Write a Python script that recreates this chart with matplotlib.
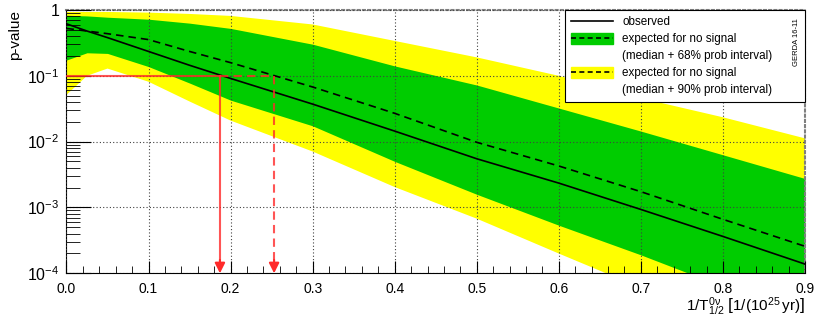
import numpy as np
import matplotlib
matplotlib.use('Agg')
import matplotlib.pyplot as plt
from matplotlib.lines import Line2D
from matplotlib.patches import Patch
from matplotlib.ticker import MultipleLocator, LogLocator, FuncFormatter, NullFormatter

plt.rcParams['font.family'] = ['Liberation Sans', 'DejaVu Sans']
plt.rcParams['mathtext.fontset'] = 'custom'
plt.rcParams['mathtext.rm'] = 'Liberation Sans'
plt.rcParams['mathtext.it'] = 'Liberation Sans'
plt.rcParams['mathtext.bf'] = 'Liberation Sans:bold'

# inverse half-life grid, 1/(1e25 yr)
x = [0.0, 0.025, 0.05, 0.1, 0.15, 0.2, 0.3, 0.4, 0.5, 0.6, 0.7, 0.8, 0.9]

# log10(p-value)
obs_log = [-0.21, -0.32, -0.42, -0.63, -0.84, -1.04, -1.43, -1.84, -2.26, -2.63, -3.03, -3.44, -3.86]
med_log = [-0.28, -0.32, -0.36, -0.45, -0.63, -0.80, -1.17, -1.57, -2.01, -2.37, -2.76, -3.18, -3.59]
g_hi_log = [-0.08, -0.09, -0.11, -0.14, -0.20, -0.28, -0.52, -0.85, -1.14, -1.49, -1.84, -2.20, -2.56]
g_lo_log = [-0.76, -0.65, -0.66, -0.86, -1.11, -1.37, -1.76, -2.30, -2.80, -3.27, -3.72, -4.20, -4.70]
y_hi_log = [-0.03, -0.03, -0.03, -0.04, -0.06, -0.09, -0.22, -0.47, -0.72, -1.00, -1.34, -1.63, -1.95]
y_lo_log = [-1.29, -1.00, -0.89, -1.09, -1.39, -1.68, -2.15, -2.69, -3.17, -3.70, -4.22, -4.75, -5.28]

p_thr = 0.1
obs_limit = 0.187
exp_limit = 0.253

x = np.array(x)
obs = 10.0 ** np.array(obs_log)
med = 10.0 ** np.array(med_log)
g_hi, g_lo = 10.0 ** np.array(g_hi_log), 10.0 ** np.array(g_lo_log)
y_hi, y_lo = 10.0 ** np.array(y_hi_log), 10.0 ** np.array(y_lo_log)

GREEN = '#00cc00'
YELLOW = '#ffff00'
RED = '#ff2a2a'

fig = plt.figure(figsize=(8.3, 3.22), dpi=100)
ax = fig.add_axes([0.0801, 0.1512, 0.8898, 0.8178])

ax.fill_between(x, y_lo, y_hi, color=YELLOW, lw=0, zorder=1)
ax.fill_between(x, g_lo, g_hi, color=GREEN, lw=0, zorder=1.1)
ax.plot(x, med, color='black', lw=1.2, ls=(0, (4.5, 3)), zorder=3)
ax.plot(x, obs, color='black', lw=1.2, zorder=3)

# limits at p = 0.1
ax.plot([0, obs_limit], [p_thr, p_thr], color=RED, lw=1.5, alpha=0.8, zorder=4)
ax.plot([obs_limit, obs_limit], [p_thr, 1.25e-4], color=RED, lw=1.5, alpha=0.8, zorder=4)
ax.plot([obs_limit, exp_limit], [p_thr, p_thr], color=RED, lw=1.5, alpha=0.8, ls=(0, (4, 2.5)), zorder=4)
ax.plot([exp_limit, exp_limit], [p_thr, 1.25e-4], color=RED, lw=1.5, alpha=0.8, ls=(0, (4, 2.5)), zorder=4)
for xl in (obs_limit, exp_limit):
    ax.annotate('', xy=(xl, 1e-4), xytext=(xl, 1.6e-4),
                arrowprops=dict(arrowstyle='-|>,head_width=0.3,head_length=0.6',
                                color=RED, lw=1.5, shrinkA=0, shrinkB=0),
                zorder=5)

ax.set_yscale('log')
ax.set_xlim(0, 0.9)
ax.set_ylim(1e-4, 1)

ax.xaxis.set_major_locator(MultipleLocator(0.1))
ax.xaxis.set_minor_locator(MultipleLocator(0.02))
ax.xaxis.set_major_formatter(FuncFormatter(lambda v, pos: f'{v:.1f}'))
ax.yaxis.set_major_locator(LogLocator(base=10))
ax.yaxis.set_minor_locator(LogLocator(base=10, subs=np.arange(2, 10)))
ax.yaxis.set_minor_formatter(NullFormatter())


def ylab(v, pos):
    e = int(round(np.log10(v)))
    return '1' if e == 0 else f'$10^{{{e}}}$'


ax.yaxis.set_major_formatter(FuncFormatter(ylab))

ax.tick_params(axis='both', which='both', direction='in', top=False, right=False)
ax.tick_params(axis='x', which='major', length=9, labelsize=10, pad=6)
ax.tick_params(axis='x', which='minor', length=5)
ax.tick_params(axis='y', which='major', length=18, labelsize=11.5, pad=5)
ax.tick_params(axis='y', which='minor', length=10)

ax.grid(True, which='major', color='0.25', ls=(0, (1, 2)), lw=0.8)
ax.set_axisbelow(False)

for s in ('top', 'right'):
    ax.spines[s].set_color('0.5')
    ax.spines[s].set_linestyle((0, (1, 1.5)))
    ax.spines[s].set_linewidth(1.5)

ax.set_ylabel('p-value', fontsize=11, loc='top', labelpad=4)
ax.set_xlabel(r'1/T$^{0\mathrm{\nu}}_{1/2}$ $\left[1/(10^{25}\,\mathrm{yr})\right]$',
              fontsize=11, loc='right', labelpad=0)

blank = Patch(visible=False)
handles = [Line2D([], [], color='black', lw=1.2),
           (Patch(color=GREEN), Line2D([], [], color='black', lw=1.2, ls=(0, (3, 2)))),
           blank,
           (Patch(color=YELLOW), Line2D([], [], color='black', lw=1.2, ls=(0, (3, 2)))),
           blank]
labels = ['observed', 'expected for no signal', '(median + 68% prob interval)',
          'expected for no signal', '(median + 90% prob interval)']
leg = ax.legend(handles, labels, loc='upper left', bbox_to_anchor=(0.675, 0.671, 0.325, 0.329),
                mode='expand', borderaxespad=0, fontsize=8.4, frameon=True, fancybox=False,
                edgecolor='black', framealpha=1, handlelength=3.6, handleheight=1.1,
                handletextpad=0.8, labelspacing=0.38, borderpad=0.5)
leg.get_frame().set_linewidth(0.8)
leg.set_zorder(6)

ax.text(0.993, 0.97, 'GERDA 16-11', transform=ax.transAxes, rotation=90,
        fontsize=5.5, ha='right', va='top', zorder=7)

fig.savefig('out.png', dpi=100)
